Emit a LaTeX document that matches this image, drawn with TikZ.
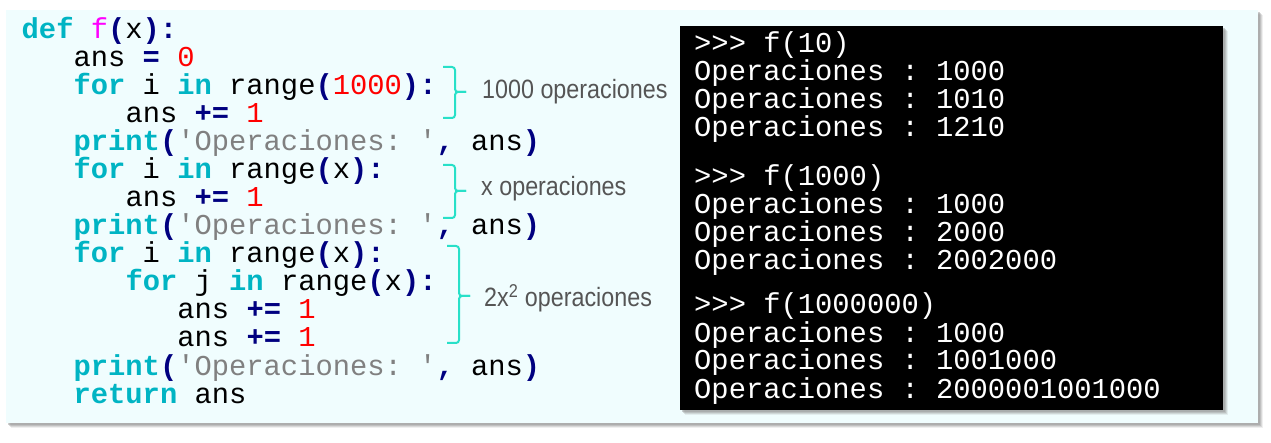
\documentclass[tikz,border=0pt]{standalone}
\usepackage{fontspec}
\setmonofont{Liberation Mono}
\newfontfamily\narrowfont{Liberation Sans}[FakeStretch=0.88]

\definecolor{panelbg}{RGB}{240,253,254}
\definecolor{kwc}{RGB}{0,180,195}
\definecolor{opc}{RGB}{0,0,128}
\definecolor{numc}{RGB}{255,0,0}
\definecolor{fnc}{RGB}{255,0,255}
\definecolor{strc}{RGB}{128,128,128}
\definecolor{bracec}{RGB}{40,224,200}
\definecolor{annc}{RGB}{85,85,85}
\definecolor{shadowc}{RGB}{150,150,150}

\newcommand\kwx[1]{\textbf{\textcolor{kwc}{#1}}}
\newcommand\opx[1]{\textbf{\textcolor{opc}{#1}}}
\newcommand\numx[1]{\textcolor{numc}{#1}}
\newcommand\fnx[1]{\textcolor{fnc}{#1}}
\newcommand\strx[1]{\textcolor{strc}{#1}}

\tikzset{
  code/.style={anchor=base west, inner sep=0pt, text=black,
    font=\ttfamily\fontsize{28.8}{28}\selectfont},
  term/.style={code, text=white},
  ann/.style={anchor=base west, inner sep=0pt, text=annc,
    font=\narrowfont\fontsize{26.5}{30}\selectfont},
  bracket/.style={draw=bracec, line width=2pt, rounded corners=3pt},
}

\begin{document}
\begin{tikzpicture}[x={(1pt,0)}, y={(0,-1pt)}]
\useasboundingbox (0,0) rectangle (1271,443);
\fill[white] (0,0) rectangle (1271,443);

% panel with shadow
\foreach \o/\a in {5/0.15,4/0.25,3/0.35,2/0.45}
  \fill[shadowc, opacity=\a] (6+\o,10+\o) rectangle (1258+\o,423+\o);
\fill[panelbg] (6,10) rectangle (1258,423);

% terminal with shadow
\foreach \o/\a in {5/0.15,4/0.25,3/0.35,2/0.45}
  \fill[shadowc, opacity=\a] (680+\o,26+\o) rectangle (1223+\o,410+\o);
\fill[black] (680,26) rectangle (1223,410);

% code
\def\cx{21.5}
\node[code] (l1)  at (\cx,39)         {\kwx{def} \fnx{f}\opx{(}x\opx{):}};
\node[code] (l2)  at (\cx+51.9,67)    {ans \opx{=} \numx{0}};
\node[code] (l3)  at (\cx+51.9,95)    {\kwx{for} i \kwx{in} range\opx{(}\numx{1000}\opx{):}};
\node[code] (l4)  at (\cx+103.8,123)  {ans \opx{+=} \numx{1}};
\node[code] (l5)  at (\cx+51.9,151)   {\kwx{print}\opx{(}\strx{'Operaciones: '}\opx{,} ans\opx{)}};
\node[code] (l6)  at (\cx+51.9,179)   {\kwx{for} i \kwx{in} range\opx{(}x\opx{):}};
\node[code] (l7)  at (\cx+103.8,207)  {ans \opx{+=} \numx{1}};
\node[code] (l8)  at (\cx+51.9,235)   {\kwx{print}\opx{(}\strx{'Operaciones: '}\opx{,} ans\opx{)}};
\node[code] (l9)  at (\cx+51.9,263)   {\kwx{for} i \kwx{in} range\opx{(}x\opx{):}};
\node[code] (l10) at (\cx+103.8,291)  {\kwx{for} j \kwx{in} range\opx{(}x\opx{):}};
\node[code] (l11) at (\cx+155.7,319)  {ans \opx{+=} \numx{1}};
\node[code] (l12) at (\cx+155.7,347)  {ans \opx{+=} \numx{1}};
\node[code] (l13) at (\cx+51.9,375)   {\kwx{print}\opx{(}\strx{'Operaciones: '}\opx{,} ans\opx{)}};
\node[code] (l14) at (\cx+51.9,403)   {\kwx{return} ans};

% brackets
\draw[bracket] (443,67) -- (455,67) -- (455,92) -- (466,92);
\draw[bracket] (443,118) -- (455,118) -- (455,92) -- (466,92);
\draw[bracket] (443,165) -- (455,165) -- (455,191) -- (466,191);
\draw[bracket] (443,218) -- (455,218) -- (455,191) -- (466,191);
\draw[bracket] (447,246) -- (459,246) -- (459,296) -- (470,296);
\draw[bracket] (447,343) -- (459,343) -- (459,296) -- (470,296);

% annotations
\node[ann] (a1) at (482,99) {1000 operaciones};
\node[ann] (a2) at (481,196) {x operaciones};
\node[ann] (a3) at (484,307) {2x\textsuperscript{2} operaciones};

% terminal text
\def\tx{694}
\node[term] (t1)  at (\tx,53)  {>{}>{}> f(10)};
\node[term] (t2)  at (\tx,81)  {Operaciones : 1000};
\node[term] (t3)  at (\tx,109) {Operaciones : 1010};
\node[term] (t4)  at (\tx,137) {Operaciones : 1210};
\node[term] (t5)  at (\tx,186) {>{}>{}> f(1000)};
\node[term] (t6)  at (\tx,214) {Operaciones : 1000};
\node[term] (t7)  at (\tx,242) {Operaciones : 2000};
\node[term] (t8)  at (\tx,270) {Operaciones : 2002000};
\node[term] (t9)  at (\tx,314) {>{}>{}> f(1000000)};
\node[term] (t10) at (\tx,342) {Operaciones : 1000};
\node[term] (t11) at (\tx,370) {Operaciones : 1001000};
\node[term] (t12) at (\tx,398) {Operaciones : 2000001001000};
\end{tikzpicture}
\end{document}
